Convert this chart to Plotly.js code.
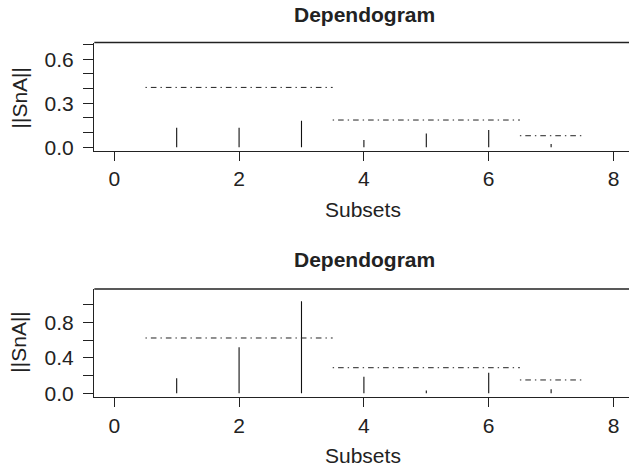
<!DOCTYPE html>
<html>
<head>
<meta charset="utf-8">
<script src="https://cdn.plot.ly/plotly-3.0.1.min.js"></script>
<style>html,body{margin:0;padding:0;background:#fff;overflow:hidden}</style>
</head>
<body>
<div id="chart" style="width:629px;height:470px"></div>
<script>
// ---- data ----
const subsets = [1, 2, 3, 4, 5, 6, 7];
const snaTop = [0.133, 0.133, 0.181, 0.050, 0.095, 0.118, 0.022];
const snaBottom = [0.169, 0.518, 1.036, 0.187, 0.030, 0.232, 0.045];
const groupStart = [0.5, 3.5, 6.5];
const groupEnd = [3.5, 6.5, 7.5];
const thrTop = [0.408, 0.186, 0.079];
const thrBottom = [0.623, 0.288, 0.150];
const xTicks = [0, 2, 4, 6, 8];
const yTicksTop = [0, 0.1, 0.2, 0.3, 0.4, 0.5, 0.6, 0.7];
const yLabelsTop = ['0.0', '', '', '0.3', '', '', '0.6', ''];
const yTicksBottom = [0, 0.2, 0.4, 0.6, 0.8, 1.0];
const yLabelsBottom = ['0.0', '', '0.4', '', '0.8', ''];

const W = 629, H = 470;
const FONT = 'Liberation Sans, Arial, Helvetica, sans-serif';
const INK = '#222222';
const px = v => v / W;
const py = v => 1 - v / H;

function spikes(vals, xa, ya) {
  const x = [], y = [];
  subsets.forEach((s, i) => { x.push(s, s, null); y.push(0, vals[i], null); });
  return {type: 'scatter', mode: 'lines', x, y, xaxis: xa, yaxis: ya,
          line: {color: '#111111', width: 1.1}, hoverinfo: 'skip', showlegend: false};
}
function thresholds(vals, xa, ya) {
  const x = [], y = [];
  vals.forEach((v, i) => { x.push(groupStart[i], groupEnd[i], null); y.push(v, v, null); });
  return {type: 'scatter', mode: 'lines', x, y, xaxis: xa, yaxis: ya,
          line: {color: '#222222', width: 1, dash: '1.4px,4px,5.6px,4px'},
          hoverinfo: 'skip', showlegend: false};
}

const xDomain = [px(94.3), 1];
const topDom = [py(150.7), py(42.5)];
const botDom = [py(397), py(289)];

function xAxis(anchor) {
  return {domain: xDomain, range: [-0.32, 8.248], anchor,
    tickmode: 'array', tickvals: xTicks, ticktext: xTicks.map(String),
    ticks: 'outside', ticklen: 9, tickwidth: 1.1, tickcolor: INK,
    showline: true, linecolor: INK, linewidth: 1.3,
    showgrid: false, zeroline: false,
    tickfont: {family: FONT, size: 21, color: INK}};
}
function yAxis(anchor, dom, range, vals, labels) {
  return {domain: dom, range, anchor,
    tickmode: 'array', tickvals: vals, ticktext: labels,
    ticks: 'outside', ticklen: 10, tickwidth: 1, tickcolor: INK,
    ticklabelstandoff: 5,
    showline: true, linecolor: INK, linewidth: 1.3,
    showgrid: false, zeroline: false,
    tickfont: {family: FONT, size: 21, color: INK}};
}

const data = [
  spikes(snaTop, 'x', 'y'), thresholds(thrTop, 'x', 'y'),
  spikes(snaBottom, 'x2', 'y2'), thresholds(thrBottom, 'x2', 'y2')
];

function ann(text, x, y, opts) {
  return Object.assign({text, x: px(x), y: py(y), xref: 'paper', yref: 'paper',
    xanchor: 'center', yanchor: 'middle', showarrow: false,
    font: {family: FONT, size: 21, color: INK}}, opts || {});
}

const layout = {
  width: W, height: H,
  margin: {l: 0, r: 0, t: 0, b: 0},
  paper_bgcolor: '#ffffff', plot_bgcolor: '#ffffff',
  showlegend: false,
  xaxis: xAxis('y'),
  yaxis: yAxis('x', topDom, [-0.023, 0.714], yTicksTop, yLabelsTop),
  xaxis2: xAxis('y2'),
  yaxis2: yAxis('x2', botDom, [-0.042, 1.175], yTicksBottom, yLabelsBottom),
  shapes: [
    {type: 'line', xref: 'paper', yref: 'paper', x0: xDomain[0], x1: 1.01, y0: topDom[1], y1: topDom[1], line: {color: INK, width: 1.3}},
    {type: 'line', xref: 'paper', yref: 'paper', x0: xDomain[0], x1: 1.01, y0: botDom[1], y1: botDom[1], line: {color: INK, width: 1.3}}
  ],
  annotations: [
    ann('<b>Dependogram</b>', 364, 14),
    ann('<b>Dependogram</b>', 364, 259),
    ann('Subsets', 363, 209.5),
    ann('Subsets', 363, 455.8),
    ann('||SnA||', 19, 97.5, {textangle: -90}),
    ann('||SnA||', 19, 341.7, {textangle: -90})
  ]
};

Plotly.newPlot('chart', data, layout, {displayModeBar: false, staticPlot: true});
</script>
</body>
</html>
